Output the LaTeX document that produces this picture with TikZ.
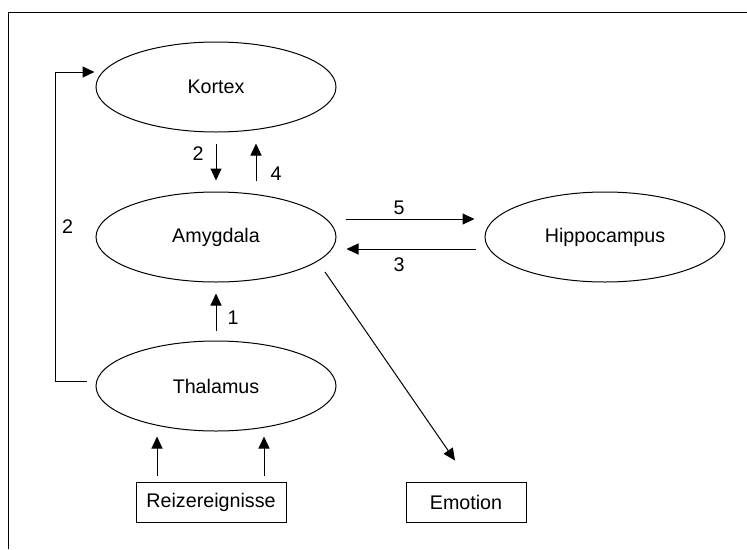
\documentclass[tikz,border=0pt]{standalone}
\usepackage{fontspec}
\setmainfont{Liberation Sans}
\usetikzlibrary{shapes.geometric,arrows.meta}

\begin{document}
\begin{tikzpicture}[x=1pt,y=-1pt,line width=1pt,
  every node/.style={font=\fontsize{19.7}{23}\selectfont},
  region/.style={ellipse,draw,minimum width=240pt,minimum height=90pt,inner sep=0pt},
  kasten/.style={rectangle,draw,minimum width=#1,minimum height=40pt,inner sep=0pt},
  pfeil/.style={-{Triangle[length=12pt,width=11pt]}},
  zahl/.style={inner sep=0pt}]
  \useasboundingbox (0,0) rectangle (747,549);
  \draw (8,549) -- (8,12) -- (747,12);
  \node[region] (kortex) at (216,87) {Kortex};
  \node[region] (amygdala) at (216,237) {Amygdala};
  \node[region] (thalamus) at (216,386) {Thalamus};
  \node[region] (hippo) at (605,237) {Hippocampus};
  \node[kasten=150pt] (reiz) at (211,502) {Reizereignisse};
  \node[kasten=120pt] (emotion) at (466,502) {Emotion};
  \draw[pfeil,shorten <=11pt,shorten >=11pt] (kortex) -- (amygdala)
    node[zahl,pos=0.35,xshift=-18pt] {2};
  \draw[pfeil,shorten <=11pt,shorten >=11pt] ([xshift=40pt]amygdala.north) -- ([xshift=40pt]amygdala.north |- kortex.south)
    node[zahl,pos=0.3,xshift=20pt] {4};
  \draw[pfeil,shorten <=10pt,shorten >=11pt] (thalamus) -- (amygdala)
    node[zahl,pos=0.4,xshift=17pt] {1};
  \draw[pfeil] ([xshift=9pt,yshift=18pt]amygdala.east) -- ([xshift=-10pt,yshift=18pt]hippo.west)
    node[zahl,midway,xshift=-11pt,yshift=11pt] {5};
  \draw[pfeil] ([xshift=-9pt,yshift=-12pt]hippo.west) -- ([xshift=10pt,yshift=-12pt]amygdala.east)
    node[zahl,midway,xshift=-12pt,yshift=-16pt] {3};
  \draw[pfeil] ([xshift=-9pt,yshift=5pt]thalamus.west) -- ++(-31,0) |- ([xshift=-1pt,yshift=15pt]kortex.west)
    node[zahl,pos=0.25,xshift=12pt] {2};
  \draw[pfeil] ([xshift=109pt,yshift=-35pt]amygdala.center) -- ([xshift=-11pt,yshift=21pt]emotion.north);
  \draw[pfeil,shorten <=6pt,shorten >=5pt] ([xshift=-54pt]reiz.north) -- ([xshift=-54pt]reiz.north |- thalamus.south);
  \draw[pfeil,shorten <=6pt,shorten >=5pt] ([xshift=53pt]reiz.north) -- ([xshift=53pt]reiz.north |- thalamus.south);
\end{tikzpicture}
\end{document}
